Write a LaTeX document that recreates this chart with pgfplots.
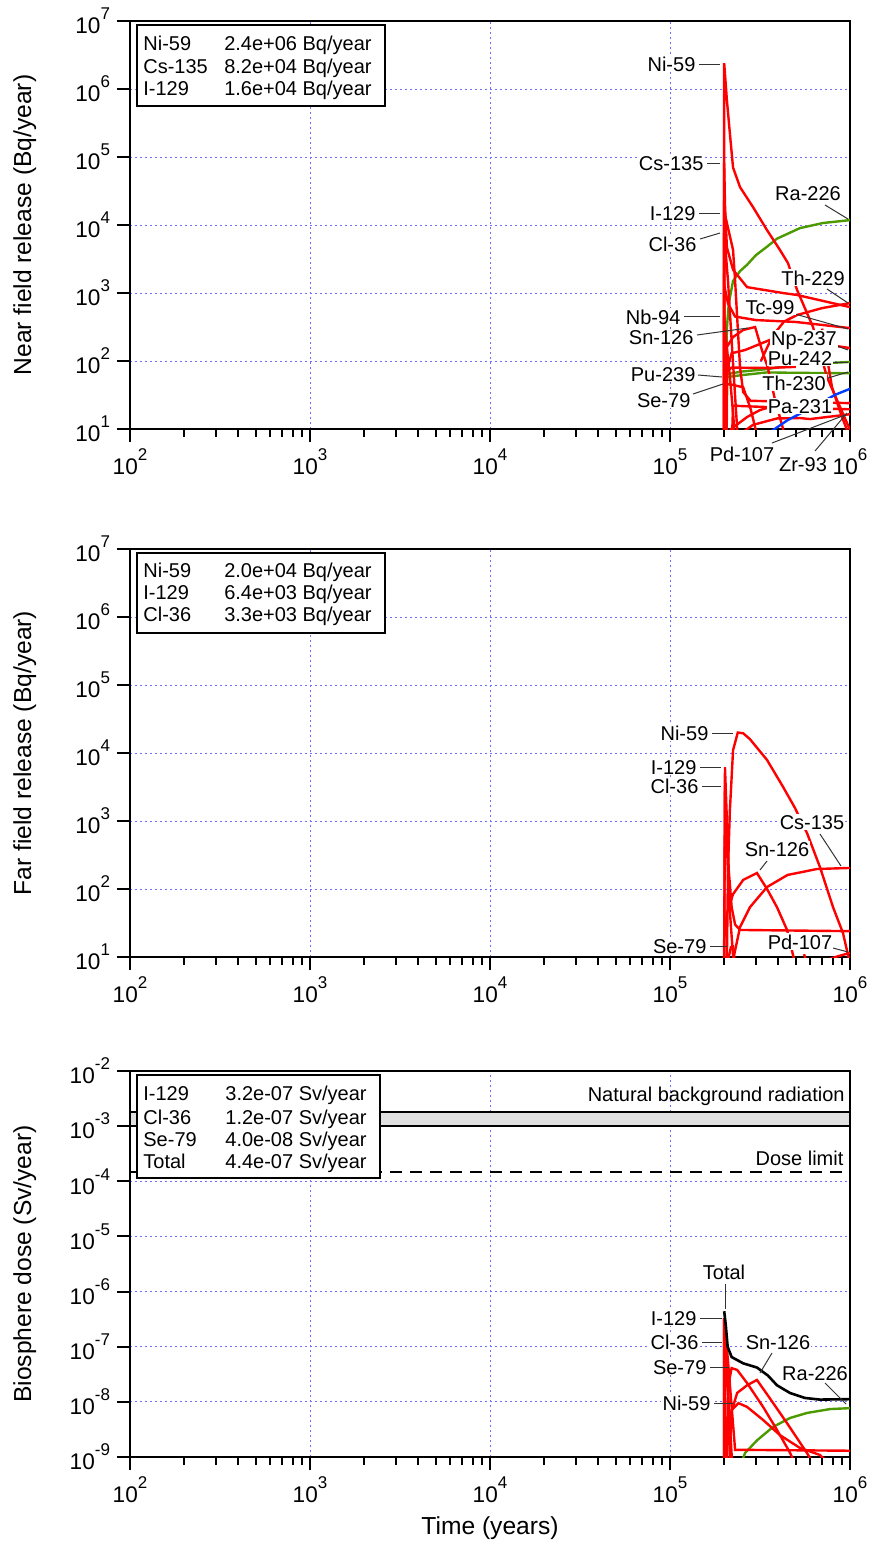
\documentclass[border=0pt]{standalone}
\usepackage{pgfplots}
\pgfplotsset{compat=1.18}
\usepackage{fontspec}
\setmainfont{Liberation Sans}
\definecolor{cred}{RGB}{255,0,0}
\definecolor{cgreen}{RGB}{76,153,0}
\definecolor{cblue}{RGB}{0,60,255}
\definecolor{gridblue}{RGB}{110,110,255}
\newcommand{\tlab}[1]{10\raisebox{0.62em}{\fontsize{8.5}{9}\selectfont #1}}
\tikzset{rl/.style={cred, line width=1.2pt},
 gl/.style={cgreen, line width=1.2pt},
 bl/.style={cblue, line width=1.2pt},
 lab/.style={fill=white, inner sep=0.6pt, font=\fontsize{10}{12}\selectfont},
 ld/.style={black!80, line width=0.5pt},
 lg/.style={inner sep=0pt, font=\fontsize{10}{12}\selectfont}}
\begin{document}
\begin{tikzpicture}
\useasboundingbox (-65pt,10.5pt) rectangle (370pt,-761.5pt);
% ---------------- Near field ----------------
\begin{axis}[scale only axis, width=360pt, height=204pt,
  at={(0pt,0pt)}, anchor=north west,
  xmode=log, ymode=log, xmin=1e2, xmax=1e6, ymin=1e1, ymax=1e7,
  axis line style={line width=1.4pt},
  tick align=outside, xtick pos=left, ytick pos=left,
  major tick length=6.5pt, minor tick length=4pt,
  tick style={black, line width=1pt},
  yminorticks=false, grid=major,
  major grid style={gridblue, line width=0.5pt, dash pattern=on 1.2pt off 1.3pt},
  xtick={1e2,1e3,1e4,1e5,1e6},
  xticklabels={\tlab{2},\tlab{3},\tlab{4},\tlab{5},\tlab{6}},
  ytick={1e1,1e2,1e3,1e4,1e5,1e6,1e7},
  yticklabels={\tlab{1},\tlab{2},\tlab{3},\tlab{4},\tlab{5},\tlab{6},\tlab{7}},
  tick label style={font=\fontsize{11.3}{12}\selectfont},
  ylabel={Near field release (Bq/year)},
  ylabel style={font=\fontsize{12.3}{14}\selectfont, at={(axis description cs:-0.146,0.5)}, rotate=0, anchor=center}]
\addplot[gl] coordinates {(2.03e5,5)(2.05e5,60)(2.07e5,300)(2.12e5,700)(2.24e5,1500)(2.45e5,2100)(2.68e5,2600)(3.0e5,3600)(3.46e5,4800)(3.93e5,6300)(5.27e5,9000)(7.08e5,10700)(1e6,11800)};
\addplot[gl] coordinates {(2.05e5,5)(2.07e5,58)(2.5e5,62)(3.46e5,68)(5e5,67)(1e6,66)};
\addplot[gl] coordinates {(2.06e5,5)(2.08e5,64)(2.5e5,70)(3.46e5,76)(5e5,88)(1e6,97)};
\addplot[rl] coordinates {(2.0e5,5)(2.0e5,2.4e6)(2.07e5,6.9e5)(2.15e5,2.25e5)(2.24e5,7.0e4)(2.45e5,3.6e4)(2.89e5,1.84e4)(3.46e5,8400)(4.08e5,4300)(4.52e5,2760)(5.08e5,1110)(6.23e5,316)(7.45e5,58)(1e6,9.7)};
\addplot[rl] coordinates {(2.0e5,5)(2.0e5,8.2e4)(2.02e5,2.0e4)(2.07e5,4700)(2.24e5,2200)(2.68e5,1220)(4.24e5,1000)(5.08e5,935)(1e6,620)};
\addplot[rl] coordinates {(2.0e5,5)(2.0e5,1.6e4)(2.24e5,4300)(2.3e5,1500)(2.38e5,300)(2.45e5,80)(2.55e5,35)(2.8e5,26)(1e6,24)};
\addplot[rl] coordinates {(2.0e5,5)(2.0e5,7600)(2.1e5,1500)(2.2e5,200)(2.3e5,30)(2.4e5,5)};
\addplot[rl] coordinates {(2.0e5,5)(2.0e5,460)(2.05e5,200)(2.15e5,60)(2.25e5,15)(2.3e5,5)};
\addplot[rl] coordinates {(2.0e5,5)(2.0e5,1300)(2.1e5,700)(2.3e5,450)(3.0e5,400)(5.0e5,375)(1e6,305)};
\addplot[rl] coordinates {(3.2e5,100)(3.7e5,230)(4.3e5,380)(5.08e5,475)(7e5,600)(1e6,710)};
\addplot[rl] coordinates {(2.05e5,5)(2.07e5,161)(2.24e5,225)(2.55e5,286)(2.97e5,316)(3.24e5,145)(3.5e5,79)(3.83e5,27)(4.35e5,8)};
\addplot[rl] coordinates {(2.05e5,5)(2.07e5,74)(2.2e5,130)(2.61e5,145)(3.93e5,225)(1e6,155)};
\addplot[rl] coordinates {(2.05e5,5)(2.07e5,70)(2.2e5,80)(3.5e5,79)(5e5,82)};
\addplot[rl] coordinates {(2.0e5,5)(2.02e5,46)(2.2e5,45)(2.55e5,41)(2.8e5,20)(3.05e5,8)};
\addplot[rl] coordinates {(2.2e5,5)(2.24e5,22)(3.5e5,21)(1e6,19.5)};
\addplot[rl] coordinates {(2.5e5,8.7)(2.89e5,11.5)(3.93e5,14.3)(5.27e5,14.5)(6.0e5,14)(1e6,16.5)};
\addplot[rl] coordinates {(2.15e5,9.7)(2.68e5,15)(3.16e5,19)(3.6e5,21)};
\addplot[rl] coordinates {(7.0e5,300)(7.94e5,41.5)(9.03e5,15)(9.62e5,9.7)};
\addplot[bl] coordinates {(3.6e5,9)(4.5e5,13.5)(6.0e5,20)(8.3e5,32)(1e6,39)};
\end{axis}
% ---------------- Far field ----------------
\begin{axis}[scale only axis, width=360pt, height=204pt,
  at={(0pt,-264pt)}, anchor=north west,
  xmode=log, ymode=log, xmin=1e2, xmax=1e6, ymin=1e1, ymax=1e7,
  axis line style={line width=1.4pt},
  tick align=outside, xtick pos=left, ytick pos=left,
  major tick length=6.5pt, minor tick length=4pt,
  tick style={black, line width=1pt},
  yminorticks=false, grid=major,
  major grid style={gridblue, line width=0.5pt, dash pattern=on 1.2pt off 1.3pt},
  xtick={1e2,1e3,1e4,1e5,1e6},
  xticklabels={\tlab{2},\tlab{3},\tlab{4},\tlab{5},\tlab{6}},
  ytick={1e1,1e2,1e3,1e4,1e5,1e6,1e7},
  yticklabels={\tlab{1},\tlab{2},\tlab{3},\tlab{4},\tlab{5},\tlab{6},\tlab{7}},
  tick label style={font=\fontsize{11.3}{12}\selectfont},
  ylabel={Far field release (Bq/year)},
  ylabel style={font=\fontsize{12.3}{14}\selectfont, at={(axis description cs:-0.146,0.5)}, rotate=0, anchor=center}]
\addplot[rl] coordinates {(2.07e5,9)(2.1e5,200)(2.15e5,1400)(2.24e5,1.1e4)(2.38e5,2.0e4)(2.55e5,1.95e4)(2.78e5,1.6e4)(3.46e5,7900)(4.24e5,3200)(4.95e5,1550)(5.77e5,665)(6.81e5,210)(8.05e5,54)(9.14e5,22.5)(9.75e5,10.7)(1e6,8)};
\addplot[rl] coordinates {(2.0e5,9)(2.02e5,6200)(2.07e5,1030)(2.12e5,190)(2.2e5,54)(2.3e5,30)(2.45e5,25)(1e6,24)};
\addplot[rl] coordinates {(2.0e5,9)(2.02e5,3300)(2.07e5,500)(2.12e5,80)(2.2e5,20)(2.25e5,9)};
\addplot[rl] coordinates {(2.24e5,9)(2.45e5,27.6)(2.78e5,54)(3.46e5,107)(4.5e5,161)(6.56e5,197)(1e6,204)};
\addplot[rl] coordinates {(2.0e5,9)(2.0e5,18)(2.07e5,44)(2.24e5,84)(2.55e5,136)(3.04e5,172)(3.46e5,100)(3.93e5,54)(4.47e5,25)(4.9e5,9)};
\addplot[rl] coordinates {(2.1e5,9)(2.18e5,14)(2.24e5,14.3)(2.28e5,9)};
\addplot[rl] coordinates {(7.45e5,9)(8.5e5,10.2)(1e6,11.5)};
\addplot[rl] coordinates {(5.55e5,11)(5.7e5,9)};
\end{axis}
% ---------------- Biosphere dose ----------------
\begin{axis}[scale only axis, width=360pt, height=193pt,
  at={(0pt,-525pt)}, anchor=north west,
  xmode=log, ymode=log, xmin=1e2, xmax=1e6, ymin=1e-9, ymax=1e-2,
  axis line style={line width=1.4pt},
  tick align=outside, xtick pos=left, ytick pos=left,
  major tick length=6.5pt, minor tick length=4pt,
  tick style={black, line width=1pt},
  yminorticks=false, grid=major,
  major grid style={gridblue, line width=0.5pt, dash pattern=on 1.2pt off 1.3pt},
  xtick={1e2,1e3,1e4,1e5,1e6},
  xticklabels={\tlab{2},\tlab{3},\tlab{4},\tlab{5},\tlab{6}},
  ytick={1e-9,1e-8,1e-7,1e-6,1e-5,1e-4,1e-3,1e-2},
  yticklabels={\tlab{-9},\tlab{-8},\tlab{-7},\tlab{-6},\tlab{-5},\tlab{-4},\tlab{-3},\tlab{-2}},
  tick label style={font=\fontsize{11.3}{12}\selectfont},
  ylabel={Biosphere dose (Sv/year)},
  ylabel style={font=\fontsize{12.3}{14}\selectfont, at={(axis description cs:-0.146,0.5)}, rotate=0, anchor=center},
  xlabel={Time (years)},
  xlabel style={font=\fontsize{12.3}{14}\selectfont, at={(axis description cs:0.5,-0.184)}, anchor=center}]
\addplot[fill=black!12, draw=black, line width=1pt] coordinates {(1e2,1e-3)(1e6,1e-3)(1e6,1.8e-3)(1e2,1.8e-3)} -- cycle;
\addplot[black, line width=1pt, dash pattern=on 6pt off 4pt] coordinates {(1e2,1.5e-4)(1e6,1.5e-4)};
\addplot[gl] coordinates {(2.5e5,8e-10)(2.61e5,1.18e-9)(3.04e5,2.0e-9)(3.73e5,3.5e-9)(4.64e5,5.1e-9)(5.77e5,6.3e-9)(7.74e5,7.4e-9)(1e6,7.7e-9)};
\addplot[rl] coordinates {(2.0e5,8e-10)(2.0e5,3.3e-7)(2.03e5,1e-8)(2.05e5,8e-10)};
\addplot[rl] coordinates {(2.0e5,8e-10)(2.0e5,3.3e-7)(2.1e5,5.5e-8)(2.3e5,1.34e-9)(2.45e5,1.35e-9)(1e6,1.3e-9)};
\addplot[rl] coordinates {(2.01e5,8e-10)(2.02e5,1.2e-7)(2.11e5,1.17e-8)(2.2e5,1.1e-9)(2.22e5,8e-10)};
\addplot[rl] coordinates {(2.07e5,8e-10)(2.12e5,2.2e-8)(2.2e5,4.1e-8)(2.36e5,3.8e-8)(2.68e5,2.2e-8)(3.29e5,8.1e-9)(3.93e5,3.1e-9)(4.64e5,1.2e-9)(4.9e5,8e-10)};
\addplot[rl] coordinates {(2.06e5,8e-10)(2.07e5,1.18e-9)(2.15e5,5.3e-9)(2.36e5,1.45e-8)(2.68e5,2.0e-8)(3.04e5,2.5e-8)(3.55e5,1.22e-8)(4.47e5,4.1e-9)(5.77e5,1.18e-9)(6.2e5,8e-10)};
\addplot[rl] coordinates {(2.15e5,8e-10)(2.15e5,1.34e-9)(2.2e5,7.1e-9)(2.4e5,9.5e-9)(2.68e5,8.1e-9)(3.29e5,4.7e-9)(4.08e5,2.5e-9)(5.27e5,1.46e-9)(6.81e5,1.09e-9)(7.5e5,8e-10)};
\addplot[black, line width=1.3pt] coordinates {(2.0e5,4.4e-7)(2.04e5,2.5e-7)(2.09e5,1.0e-7)(2.2e5,6.5e-8)(2.55e5,5.0e-8)(3.04e5,4.2e-8)(3.5e5,3.0e-8)(3.93e5,2.0e-8)(4.64e5,1.45e-8)(5.6e5,1.18e-8)(6.8e5,1.1e-8)(1e6,1.12e-8)};
\end{axis}
% ---------------- annotations (image pixel frame) ----------------
\begin{scope}[x=0.5pt, y=-0.5pt, shift={(-65pt,10.5pt)}]
\draw[ld] (699,64)--(720,64);
\draw[ld] (707,163)--(720,163);
\draw[ld] (699,213)--(720,213);
\draw[ld] (825,205)--(848,219);
\draw[ld] (700,239)--(720,233);
\draw[ld] (827,289)--(848,303);
\draw[ld] (795,314)--(848,329);
\draw[ld] (684,316)--(720,316);
\draw[ld] (697,335)--(748,328);
\draw[ld] (837,346)--(848,350);
\draw[ld] (833,362)--(848,362);
\draw[ld] (698,375)--(722,377);
\draw[ld] (828,378)--(848,372);
\draw[ld] (693,394)--(723,384);
\draw[ld] (772,443)--(845,415);
\draw[ld] (815,451)--(847,413);
\node[lab, anchor=base east] at (697,71) {Ni-59};
\node[lab, anchor=base east] at (705,170) {Cs-135};
\node[lab, anchor=base east] at (697,220) {I-129};
\node[lab, anchor=base] at (808,200) {Ra-226};
\node[lab, anchor=base east] at (698,251) {Cl-36};
\node[lab, anchor=base] at (813,285) {Th-229};
\node[lab, anchor=base] at (770,314) {Tc-99};
\node[lab, anchor=base east] at (682,324) {Nb-94};
\node[lab, anchor=base east] at (695,344) {Sn-126};
\node[lab, anchor=base] at (804,345) {Np-237};
\node[lab, anchor=base] at (800,365) {Pu-242};
\node[lab, anchor=base east] at (697,381) {Pu-239};
\node[lab, anchor=base] at (794,390) {Th-230};
\node[lab, anchor=base east] at (692,407) {Se-79};
\node[lab, anchor=base] at (800,413) {Pa-231};
\node[lab, anchor=base] at (742,461) {Pd-107};
\node[lab, anchor=base] at (803,471) {Zr-93};
\draw[fill=white, line width=1pt] (137,25) rectangle (385,106);
\node[lg, anchor=base west] at (143,50) {Ni-59};
\node[lg, anchor=base east] at (372,50) {2.4e+06 Bq/year};
\node[lg, anchor=base west] at (143,73) {Cs-135};
\node[lg, anchor=base east] at (372,73) {8.2e+04 Bq/year};
\node[lg, anchor=base west] at (143,95) {I-129};
\node[lg, anchor=base east] at (372,95) {1.6e+04 Bq/year};
\draw[ld] (712,733)--(733,733);
\draw[ld] (700,767)--(721,767);
\draw[ld] (702,786)--(721,786);
\draw[ld] (820,834)--(841,866);
\draw[ld] (767,861)--(760,870);
\draw[ld] (710,946)--(727,946);
\draw[ld] (833,948)--(848,952);
\node[lab, anchor=base east] at (710,740) {Ni-59};
\node[lab, anchor=base east] at (698,774) {I-129};
\node[lab, anchor=base east] at (700,793) {Cl-36};
\node[lab, anchor=base] at (812,829) {Cs-135};
\node[lab, anchor=base] at (777,856) {Sn-126};
\node[lab, anchor=base east] at (708,953) {Se-79};
\node[lab, anchor=base] at (800,949) {Pd-107};
\draw[fill=white, line width=1pt] (137,553) rectangle (385,633);
\node[lg, anchor=base west] at (143,577) {Ni-59};
\node[lg, anchor=base east] at (372,577) {2.0e+04 Bq/year};
\node[lg, anchor=base west] at (143,599) {I-129};
\node[lg, anchor=base east] at (372,599) {6.4e+03 Bq/year};
\node[lg, anchor=base west] at (143,621) {Cl-36};
\node[lg, anchor=base east] at (372,621) {3.3e+03 Bq/year};
\draw[ld] (725,1284)--(725,1309);
\draw[ld] (700,1318)--(722,1318);
\draw[ld] (702,1342)--(722,1342);
\draw[ld] (710,1367)--(729,1367);
\draw[ld] (714,1403)--(733,1403);
\draw[ld] (772,1353)--(760,1373);
\draw[ld] (825,1383)--(846,1404);
\node[lg, anchor=base east] at (845,1101) {Natural background radiation};
\node[lab, anchor=base east] at (845,1165) {Dose limit};
\node[lab, anchor=base] at (724,1279) {Total};
\node[lab, anchor=base east] at (698,1325) {I-129};
\node[lab, anchor=base east] at (700,1349) {Cl-36};
\node[lab, anchor=base east] at (708,1374) {Se-79};
\node[lab, anchor=base east] at (712,1410) {Ni-59};
\node[lab, anchor=base] at (778,1349) {Sn-126};
\node[lab, anchor=base] at (815,1380) {Ra-226};
\draw[fill=white, line width=1pt] (137,1075) rectangle (380,1178);
\node[lg, anchor=base west] at (143,1100) {I-129};
\node[lg, anchor=base east] at (367,1100) {3.2e-07 Sv/year};
\node[lg, anchor=base west] at (143,1124) {Cl-36};
\node[lg, anchor=base east] at (367,1124) {1.2e-07 Sv/year};
\node[lg, anchor=base west] at (143,1146) {Se-79};
\node[lg, anchor=base east] at (367,1146) {4.0e-08 Sv/year};
\node[lg, anchor=base west] at (143,1168) {Total};
\node[lg, anchor=base east] at (367,1168) {4.4e-07 Sv/year};
\end{scope}
\end{tikzpicture}
\end{document}
